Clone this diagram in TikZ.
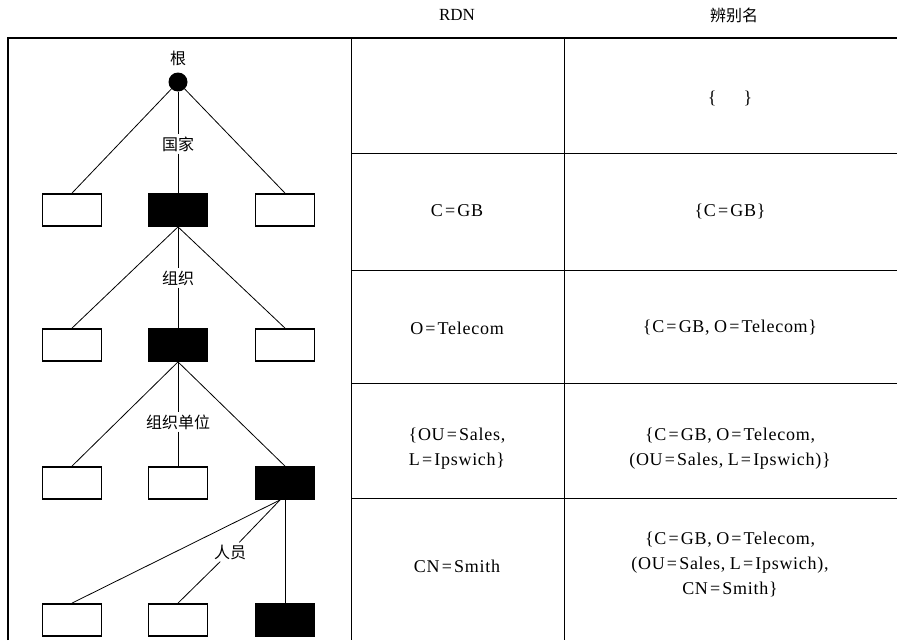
\documentclass[tikz,border=0pt]{standalone}
\usepackage{fontspec}
\setmainfont{Liberation Serif}
\newfontfamily\cjk{Noto Sans CJK SC}
\newfontfamily\tnr[LetterSpace=4]{Liberation Serif}
\newcommand{\eqs}{\hspace{0.12em}=\hspace{0.12em}}
\newcommand{\cmsep}{,\hspace{0.25em}}
\begin{document}
\begin{tikzpicture}[x=1pt,y=-1pt,
  wbox/.style={draw, line width=1.8pt, fill=white, minimum width=59pt, minimum height=32pt, inner sep=0pt},
  bbox/.style={wbox, fill=black},
  edge/.style={line width=0.8pt},
  lbl/.style={font=\cjk\fontsize{16}{18}\selectfont, inner sep=2pt, fill=white},
  cell/.style={font=\tnr\fontsize{18}{25}\selectfont, align=center, inner sep=0pt},
  head/.style={font=\fontsize{17}{20}\selectfont, inner sep=0pt},
  rule/.style={line width=0.9pt},
  frame/.style={line width=1.4pt}]
\useasboundingbox (0,0) rectangle (897,640);

% frame and table rules
\draw[frame] (8,640) -- (8,38) -- (897,38);
\draw[rule] (351,38) -- (351,640);
\draw[rule] (564,38) -- (564,640);
\foreach \yy in {153,270,383,498} \draw[rule] (351,\yy) -- (897,\yy);

% headers
\node[head] (hrdn) at (457,15) {RDN};
\node[head, font=\cjk\fontsize{16}{20}\selectfont] (hdn) at (734,15) {辨别名};

% tree nodes
\node[circle, fill=black, minimum size=19pt, inner sep=0pt] (root) at (178,82) {};
\node[lbl, fill=none] (lroot) at (178,58) {根};

\node[wbox] (a1) at (72,210) {};
\node[bbox] (b1) at (178,210) {};
\node[wbox] (c1) at (285,210) {};

\node[wbox] (a2) at (72,345) {};
\node[bbox] (b2) at (178,345) {};
\node[wbox] (c2) at (285,345) {};

\node[wbox] (a3) at (72,483) {};
\node[wbox] (b3) at (178,483) {};
\node[bbox] (c3) at (285,483) {};

\node[wbox] (a4) at (72,620) {};
\node[wbox] (b4) at (178,620) {};
\node[bbox] (c4) at (285,620) {};

\node[lbl] (l1) at (178,144) {国家};
\node[lbl] (l2) at (178,278) {组织};
\node[lbl] (l3) at (178,422) {组织单位};
\node[lbl] (l4) at (230,552) {人员};

\coordinate (o4) at (280,500);

% connectors
\draw[edge] (root) -- (a1.north);
\draw[edge] (root) -- (c1.north);
\draw[edge] (root) -- (l1);
\draw[edge] (l1) -- (b1.north);

\draw[edge] (b1.south) -- (a2.north);
\draw[edge] (b1.south) -- (c2.north);
\draw[edge] (b1.south) -- (l2);
\draw[edge] (l2) -- (b2.north);

\draw[edge] (b2.south) -- (a3.north);
\draw[edge] (b2.south) -- (c3.north);
\draw[edge] (b2.south) -- (l3);
\draw[edge] (l3) -- (b3.north);

\draw[edge] (o4) -- (a4.north);
\draw[edge] (o4) -- (l4);
\draw[edge] (l4) -- (b4.north);
\draw[edge] (c3.south) -- (c4.north);

% table cells
\node[cell] (r1b) at (730,98) {\{\hspace{1.5em}\}};
\node[cell] (r2a) at (457,211) {C\eqs GB};
\node[cell] (r2b) at (730,211) {\{C\eqs GB\}};
\node[cell] (r3a) at (457,328) {O\eqs Telecom};
\node[cell] (r3b) at (730,328) {\{C\eqs GB\cmsep O\eqs Telecom\}};
\node[cell] (r4a) at (457,449) {\{OU\eqs Sales,\\ L\eqs Ipswich\}};
\node[cell] (r4b) at (730,449) {\{C\eqs GB\cmsep O\eqs Telecom,\\ (OU\eqs Sales\cmsep L\eqs Ipswich)\}};
\node[cell] (r5a) at (457,566) {CN\eqs Smith};
\node[cell] (r5b) at (730,564) {\{C\eqs GB\cmsep O\eqs Telecom,\\ (OU\eqs Sales\cmsep L\eqs Ipswich),\\ CN\eqs Smith\}};
\end{tikzpicture}
\end{document}
